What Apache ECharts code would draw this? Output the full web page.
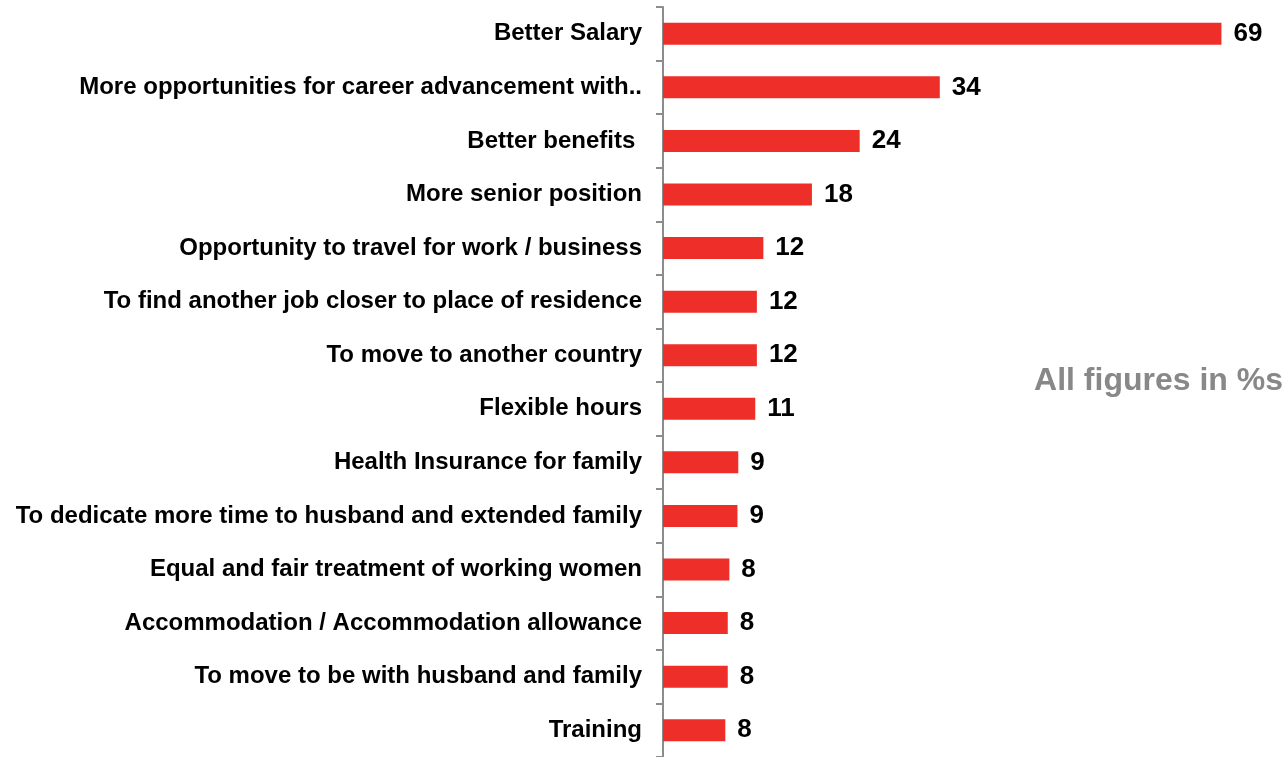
<!DOCTYPE html>
<html>
<head>
<meta charset="utf-8">
<script src="https://cdn.jsdelivr.net/npm/echarts@6/dist/echarts.min.js"></script>
<style>
html,body{margin:0;padding:0;background:#fff;}
#chart{width:1286px;height:757px;}
</style>
</head>
<body>
<div id="chart"></div>
<script>
const categories = [
  "Better Salary",
  "More opportunities for career advancement with..",
  "Better benefits ",
  "More senior position",
  "Opportunity to travel for work / business",
  "To find another job closer to place of residence",
  "To move to another country",
  "Flexible hours",
  "Health Insurance for family",
  "To dedicate more time to husband and extended family",
  "Equal and fair treatment of working women",
  "Accommodation / Accommodation allowance",
  "To move to be with husband and family",
  "Training"
];
const values = [69.0, 34.2, 24.3, 18.4, 12.4, 11.6, 11.6, 11.4, 9.3, 9.2, 8.2, 8.0, 8.0, 7.7];
const noteText = "All figures in %s";

const chart = echarts.init(document.getElementById('chart'));
chart.setOption({
  animation: false,
  grid: { left: 663, right: 16, top: 7, bottom: -2, containLabel: false },
  xAxis: {
    type: 'value', min: 0, max: 75, show: false
  },
  yAxis: {
    type: 'category',
    inverse: true,
    data: categories,
    axisLine: { show: true, lineStyle: { color: '#8c8c8c', width: 2 } },
    axisTick: { show: true, length: 7, lineStyle: { color: '#8c8c8c', width: 2 } },
    axisLabel: {
      margin: 21,
      color: '#000',
      fontFamily: 'Liberation Sans, Arial, sans-serif',
      fontWeight: 'bold',
      fontSize: 24,
      padding: [4, 0, 0, 0]
    }
  },
  series: [{
    type: 'bar',
    data: values,
    barWidth: 22,
    itemStyle: { color: '#EE2E29' },
    label: {
      show: true,
      position: 'right',
      distance: 12,
      color: '#000',
      fontFamily: 'Liberation Sans, Arial, sans-serif',
      fontWeight: 'bold',
      fontSize: 26,
      padding: [4, 0, 0, 0],
      formatter: p => Math.round(p.value)
    }
  }],
  graphic: [{
    type: 'text',
    right: 3,
    top: 365,
    style: {
      text: noteText,
      fill: '#888888',
      font: 'bold 32px "Liberation Sans", Arial, sans-serif'
    }
  }]
});
</script>
</body>
</html>
